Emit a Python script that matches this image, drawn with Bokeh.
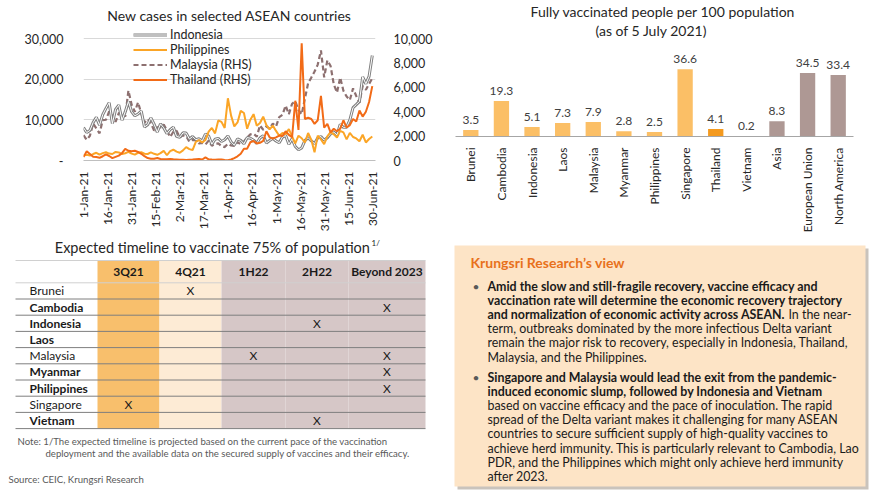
import math
import pandas as pd
from bokeh.plotting import figure
from bokeh.layouts import column, row
from bokeh.models import (Range1d, LinearAxis, FixedTicker, NumeralTickFormatter,
                          Legend, LegendItem, ColumnDataSource, LabelSet, FactorRange, Title)
from bokeh.embed import file_html
from bokeh.resources import INLINE
from bokeh.core.properties import value

FONT = "Lato"

# ---------------- data: new cases (every second day, 1-Jan-21 .. 30-Jun-21) ----------------
dates = pd.date_range("2021-01-01", "2021-06-30", freq="2D")

indonesia = [8070, 6880, 7390, 9320, 10620, 8690, 11280, 12820, 14220, 9090, 12570, 13630, 9910, 11950, 14520, 12000,
             10990, 11430, 12160, 8240, 8780, 10490, 8940, 6990, 9000, 8050, 6620, 7590, 8200, 5930,
             5710, 6800, 6740, 5270, 5890, 5130, 5330, 4820, 6510, 6010, 4010, 5230, 5430, 4680, 5100,
             6050, 4560, 3770, 5310, 4960, 4110, 5640, 5480, 5000, 4220, 5540, 6100, 4320, 4900, 5440,
             4800, 4370, 5770, 6130, 4000, 5320, 3450, 2630, 3080, 4870, 5620, 4830, 4130, 5560, 5900, 5010,
             5600, 6590, 6990, 6290, 8890, 8160, 8190, 9940, 12990, 13740, 14540, 20570, 18870, 20690, 25830]

philippines = [1240, 1400, 1210, 1590, 1900, 1420, 1810, 2020, 1700, 1600, 2110, 1990, 1620, 1780, 2130, 1700,
               1440, 1900, 2030, 1660, 1600, 1990, 1640, 1400, 1800, 2380, 1290, 2300, 2650, 2180,
               1900, 2480, 3300, 2800, 2580, 4580, 5000, 4430, 5030, 7100, 8020, 6670, 9840, 9500, 8000,
               15300, 11030, 8400, 9370, 12200, 11680, 7820, 10030, 11400, 8570, 9230, 10770, 8700, 7640, 8580,
               7280, 6080, 6750, 6480, 7730, 5910, 4190, 6090, 5470, 4430, 6770, 5090, 2000, 6120, 5190, 4020,
               5920, 7000, 6430, 5640, 7300, 6900, 5180, 6800, 5780, 5420, 4730, 6330, 4430, 5290, 5900]

malaysia = [2070, 1700, 2030, 3030, 2640, 2230, 3310, 3340, 4030, 3630, 3170, 3880, 3950, 3590, 5730, 4580,
            4000, 4770, 3850, 3100, 3390, 3050, 2460, 2720, 2710, 2940, 2470, 1920, 2360, 2440,
            1900, 2060, 2000, 1530, 1690, 1650, 1400, 1450, 1300, 1630, 1210, 1380, 1400, 1180, 1100,
            1370, 1230, 1190, 1500, 1320, 1560, 1890, 2140, 2200, 1960, 2880, 2520, 2800, 2610, 3030,
            2800, 3560, 3740, 4500, 3800, 4650, 4860, 4140, 3790, 5080, 6330, 6800, 7290, 7860, 9020, 6820,
            8210, 7750, 6240, 5570, 6800, 5720, 5240, 4950, 5910, 5290, 4740, 6100, 5800, 6280, 6740]

thailand = [280, 750, 530, 300, 280, 220, 350, 500, 370, 200, 300, 400, 600, 960, 800, 750,
            800, 700, 550, 350, 200, 150, 140, 200, 120, 100, 100, 130, 100, 90,
            70, 60, 40, 70, 80, 100, 120, 80, 250, 100, 80, 70, 80, 90, 50,
            30, 80, 200, 340, 560, 970, 970, 1500, 1600, 1400, 1450, 1600, 2400, 1900, 1800,
            1900, 2040, 2000, 2400, 2100, 1900, 4900, 2500, 9600, 3400, 3500, 3400, 3000, 3300, 5300, 2700,
            3000, 2300, 2600, 2400, 2600, 3300, 2700, 2900, 3400, 3200, 4100, 3600, 4000, 4800, 6100]

date_tick_labels = ["1-Jan-21", "16-Jan-21", "31-Jan-21", "15-Feb-21", "2-Mar-21", "17-Mar-21", "1-Apr-21",
                    "16-Apr-21", "1-May-21", "16-May-21", "31-May-21", "15-Jun-21", "30-Jun-21"]
left_ticks = [0, 10000, 20000, 30000]
left_tick_labels = ["-", "10,000", "20,000", "30,000"]
right_ticks = [0, 2000, 4000, 6000, 8000, 10000]

# ---------------- data: fully vaccinated ----------------
vacc_countries = ["Brunei", "Cambodia", "Indonesia", "Laos", "Malaysia", "Myanmar", "Philippines",
                  "Singapore", "Thailand", "Vietnam", "Asia", "European Union", "North America"]
vacc_values = [3.5, 19.3, 5.1, 7.3, 7.9, 2.8, 2.5, 36.6, 4.1, 0.2, 8.3, 34.5, 33.4]

# ---------------- data: timeline table ----------------
timeline_periods = ["3Q21", "4Q21", "1H22", "2H22", "Beyond 2023"]
timeline_countries = ["Brunei", "Cambodia", "Indonesia", "Laos", "Malaysia", "Myanmar",
                      "Philippines", "Singapore", "Vietnam"]
mark_country = ["Brunei", "Cambodia", "Indonesia", "Malaysia", "Malaysia", "Myanmar",
                "Philippines", "Singapore", "Vietnam"]
mark_period = ["4Q21", "Beyond 2023", "2H22", "1H22", "Beyond 2023", "Beyond 2023",
               "Beyond 2023", "3Q21", "2H22"]

# ---------------- styles ----------------
TXT = "#262626"
bar_colors = {"Thailand": "#F49A1F", "Asia": "#AE9894", "European Union": "#AE9894",
              "North America": "#AE9894"}
BAR_DEFAULT = "#FBBF66"
bold_rows = {"Cambodia", "Indonesia", "Laos", "Myanmar", "Philippines", "Vietnam"}

# ======================= chart 1: new cases =======================
day0 = dates[0]
days = [(d - day0).days for d in dates]
tick_days = [(pd.to_datetime(s, format="%d-%b-%y") - day0).days for s in date_tick_labels]

p1 = figure(width=440, height=235, x_range=Range1d(0, 182), y_range=Range1d(0, 33443),
            output_backend="svg", toolbar_location=None,
            min_border_left=83, min_border_right=65, min_border_top=24, min_border_bottom=75,
            outline_line_color=None, background_fill_color="white")
p1.frame_align = False
p1.extra_y_ranges = {"rhs": Range1d(0, 11148)}

p1.title.text = "New cases in selected ASEAN countries"
p1.title.align = "center"
p1.title.text_font = FONT
p1.title.text_font_size = "14px"
p1.title.text_font_style = "normal"
p1.title.text_color = TXT
p1.title.standoff = 1

p1.xaxis.ticker = FixedTicker(ticks=tick_days)
p1.xaxis.major_label_overrides = {d: s for d, s in zip(tick_days, date_tick_labels)}
p1.xaxis.major_label_orientation = math.pi / 2
p1.xaxis.axis_line_color = "#BFBFBF"
p1.xaxis.major_tick_line_color = None
p1.xaxis.minor_tick_line_color = None
p1.xaxis.major_label_text_font = FONT
p1.xaxis.major_label_text_font_size = "12px"
p1.xaxis.major_label_text_color = TXT
p1.xaxis.major_label_standoff = 5

p1.yaxis.ticker = FixedTicker(ticks=left_ticks)
p1.yaxis.major_label_overrides = {t: s for t, s in zip(left_ticks, left_tick_labels)}
p1.yaxis.axis_line_color = None
p1.yaxis.major_tick_line_color = None
p1.yaxis.minor_tick_line_color = None
p1.yaxis.major_label_text_font = FONT
p1.yaxis.major_label_text_font_size = "12.5px"
p1.yaxis.major_label_text_color = TXT
p1.yaxis.major_label_standoff = 14

rax = LinearAxis(y_range_name="rhs", ticker=FixedTicker(ticks=right_ticks),
                 formatter=NumeralTickFormatter(format="0,0"))
rax.axis_line_color = None
rax.major_tick_line_color = None
rax.minor_tick_line_color = None
rax.major_label_text_font = FONT
rax.major_label_text_font_size = "12.5px"
rax.major_label_text_color = TXT
rax.major_label_standoff = 12
p1.add_layout(rax, "right")

p1.xgrid.grid_line_color = None
p1.ygrid.ticker = FixedTicker(ticks=left_ticks)
p1.ygrid.grid_line_color = "#D9D9D9"

r_my = p1.line(days, malaysia, y_range_name="rhs", line_color="#8D7070", line_width=2.2, line_dash="5 3")
r_id1 = p1.line(days, indonesia, line_color="#808080", line_width=3)
r_id2 = p1.line(days, indonesia, line_color="white", line_width=1)
r_ph = p1.line(days, philippines, line_color="#FBA526", line_width=2)
r_th = p1.line(days, thailand, y_range_name="rhs", line_color="#F26B17", line_width=2)

legend = Legend(items=[LegendItem(label="Indonesia", renderers=[r_id1, r_id2]),
                       LegendItem(label="Philippines", renderers=[r_ph]),
                       LegendItem(label="Malaysia (RHS)", renderers=[r_my]),
                       LegendItem(label="Thailand (RHS)", renderers=[r_th])],
                location=(50, 73), orientation="vertical")
legend.background_fill_alpha = 0
legend.border_line_color = None
legend.padding = 0
legend.margin = 0
legend.spacing = 0
legend.glyph_width = 34
legend.glyph_height = 13
legend.label_height = 13
legend.label_standoff = 3
legend.label_text_font = FONT
legend.label_text_font_size = "12.5px"
legend.label_text_color = TXT
p1.add_layout(legend, "center")

# ======================= chart 2: fully vaccinated =======================
p2 = figure(width=430, height=235, x_range=FactorRange(factors=vacc_countries), y_range=Range1d(0, 53.3),
            output_backend="svg", toolbar_location=None, title=None,
            min_border_left=15, min_border_right=17, min_border_top=38, min_border_bottom=99,
            outline_line_color=None)
p2.frame_align = False
sub_title = Title(text="(as of 5 July 2021)", align="left", offset=140, standoff=0,
                  text_font=FONT, text_font_size="14px", text_font_style="normal", text_color=TXT)
main_title = Title(text="Fully vaccinated people per 100 population", align="left", offset=75, standoff=0,
                   text_font=FONT, text_font_size="14px", text_font_style="normal", text_color=TXT)
p2.add_layout(sub_title, "above")
p2.add_layout(main_title, "above")

src2 = ColumnDataSource(dict(cat=vacc_countries, val=vacc_values,
                             lab=["%.1f" % v for v in vacc_values],
                             color=[bar_colors.get(c, BAR_DEFAULT) for c in vacc_countries]))
p2.vbar(x="cat", top="val", width=0.5, fill_color="color", line_color=None, source=src2)
p2.add_layout(LabelSet(x="cat", y="val", text="lab", source=src2, y_offset=6, text_align="center",
                       text_baseline="bottom", text_font=value(FONT), text_font_size="12px",
                       text_color="#404040"))
p2.yaxis.visible = False
p2.grid.grid_line_color = None
p2.xaxis.axis_line_color = "#A6A6A6"
p2.xaxis.major_tick_line_color = None
p2.xaxis.minor_tick_line_color = None
p2.xaxis.major_label_orientation = math.pi / 2
p2.xaxis.major_label_text_font = FONT
p2.xaxis.major_label_text_font_size = "12px"
p2.xaxis.major_label_text_color = TXT
p2.xaxis.major_label_standoff = 5

# ======================= bottom: table + text box =======================
p3 = figure(width=870, height=264, x_range=Range1d(0, 870), y_range=Range1d(264, 0),
            output_backend="svg", toolbar_location=None, min_border=0,
            x_axis_location=None, y_axis_location=None, outline_line_color=None)
p3.frame_align = False
p3.grid.visible = False

# table title
p3.text(x=[370], y=[12], text=["Expected timeline to vaccinate 75% of population"],
        text_align="right", text_baseline="middle", text_font=value(FONT), text_font_size="14.5px",
        text_color=TXT)
p3.text(x=[371], y=[7], text=["1/"], text_align="left", text_baseline="middle",
        text_font=value(FONT), text_font_size="8px", text_color=TXT)

col_edges = [15, 97, 159, 221, 285, 348, 425]
col_fill = ["#FFFFFF", "#F8BF6C", "#FDEBD5", "#D6C7C7", "#D6C7C7", "#D6C7C7"]
tbl_top, head_bot, row_h = 25, 47.3, 16.2
tbl_bot = head_bot + row_h * len(timeline_countries)
p3.quad(left=col_edges[:-1], right=col_edges[1:], top=[tbl_top] * 6, bottom=[tbl_bot] * 6,
        fill_color=col_fill, line_color=None)
row_lines = [head_bot + row_h * (i + 1) for i in range(len(timeline_countries))]
p3.segment(x0=[15] * len(row_lines), x1=[425] * len(row_lines), y0=row_lines, y1=row_lines,
           line_color="#7F7F7F", line_width=1)
p3.segment(x0=[15, 15], x1=[425, 425], y0=[tbl_top, head_bot], y1=[tbl_top, head_bot],
           line_color="#D0D0D0", line_width=1)

centers = [(a + b) / 2 for a, b in zip(col_edges[:-1], col_edges[1:])]
p3.text(x=centers[1:], y=[36] * 5, text=timeline_periods, text_align="center", text_baseline="middle",
        text_font=value(FONT), text_font_size="12px", text_font_style="bold", text_color="#1A1A1A")
row_y = {c: head_bot + row_h * (i + 0.5) for i, c in enumerate(timeline_countries)}
for bold in (True, False):
    names = [c for c in timeline_countries if (c in bold_rows) == bold]
    p3.text(x=[29] * len(names), y=[row_y[c] for c in names], text=names, text_align="left",
            text_baseline="middle", text_font=value(FONT), text_font_size="12px",
            text_font_style="bold" if bold else "normal", text_color="#1A1A1A")
period_x = {p: centers[i + 1] for i, p in enumerate(timeline_periods)}
p3.text(x=[period_x[p] for p in mark_period], y=[row_y[c] for c in mark_country],
        text=["X"] * len(mark_period), text_align="center", text_baseline="middle",
        text_font=value(FONT), text_font_size="12px", text_color="#1A1A1A")

# notes
p3.text(x=[17, 45, 8], y=[206, 218, 244],
        text=["Note: 1/The expected timeline is projected based on the current pace of the vaccination",
              "deployment and the available data on the secured supply of vaccines and their efficacy.",
              "Source: CEIC, Krungsri Research"],
        text_align="left", text_baseline="middle", text_font=value(FONT), text_font_size="9.6px",
        text_color="#595959")

# text box
p3.quad(left=[457], right=[868], top=[13], bottom=[254], fill_color="#C9C3BC", line_color=None)
p3.quad(left=[454], right=[865], top=[10], bottom=[251], fill_color="#FDE4C6", line_color=None)
p3.text(x=[470], y=[27], text=["Krungsri Research\u2019s view"], text_align="left", text_baseline="middle",
        text_font=value(FONT), text_font_size="14px", text_font_style="bold", text_color="#E8711C")

para1 = [
    [("Amid the slow and still-fragile recovery, vaccine efficacy and", True)],
    [("vaccination rate will determine the economic recovery trajectory", True)],
    [("and normalization of economic activity across ASEAN.", True), ("In the near-", False)],
    [("term, outbreaks dominated by the more infectious Delta variant", False)],
    [("remain the major risk to recovery, especially in Indonesia, Thailand,", False)],
    [("Malaysia, and the Philippines.", False)],
]
para2 = [
    [("Singapore and Malaysia would lead the exit from the pandemic-", True)],
    [("induced economic slump, followed by Indonesia and Vietnam", True)],
    [("based on vaccine efficacy and the pace of inoculation. The rapid", False)],
    [("spread of the Delta variant makes it challenging for many ASEAN", False)],
    [("countries to secure sufficient supply of high-quality vaccines to", False)],
    [("achieve herd immunity. This is particularly relevant to Cambodia, Lao", False)],
    [("PDR, and the Philippines which might only achieve herd immunity", False)],
    [("after 2023.", False)],
]

LX, RX, LH = 487, 851, 14.1
segs = {"x": [], "y": [], "t": [], "st": [], "al": []}
for para, y_start in ((para1, 51.0), (para2, 142.0)):
    for i, line in enumerate(para):
        y = y_start + i * LH
        for j, (txt, b) in enumerate(line):
            segs["x"].append(LX if j == 0 else RX)
            segs["y"].append(y)
            segs["t"].append(txt)
            segs["st"].append("bold" if b else "normal")
            segs["al"].append("left" if j == 0 else "right")
p3.text(x="x", y="y", text="t", text_font_style="st", text_align="al",
        source=ColumnDataSource(dict(x=segs["x"], y=segs["y"], t=segs["t"], st=segs["st"], al=segs["al"])),
        text_baseline="middle", text_font=value(FONT), text_font_size="12.4px", text_color="#1A1A1A")
p3.text(x=[472, 472], y=[51.0, 142.0], text=["\u2022", "\u2022"], text_align="left", text_baseline="middle",
        text_font=value(FONT), text_font_size="12px", text_color="#595959")

layout = column(row(p1, p2, spacing=0), p3, spacing=0)
open("out.html", "w").write(file_html(layout, INLINE))
